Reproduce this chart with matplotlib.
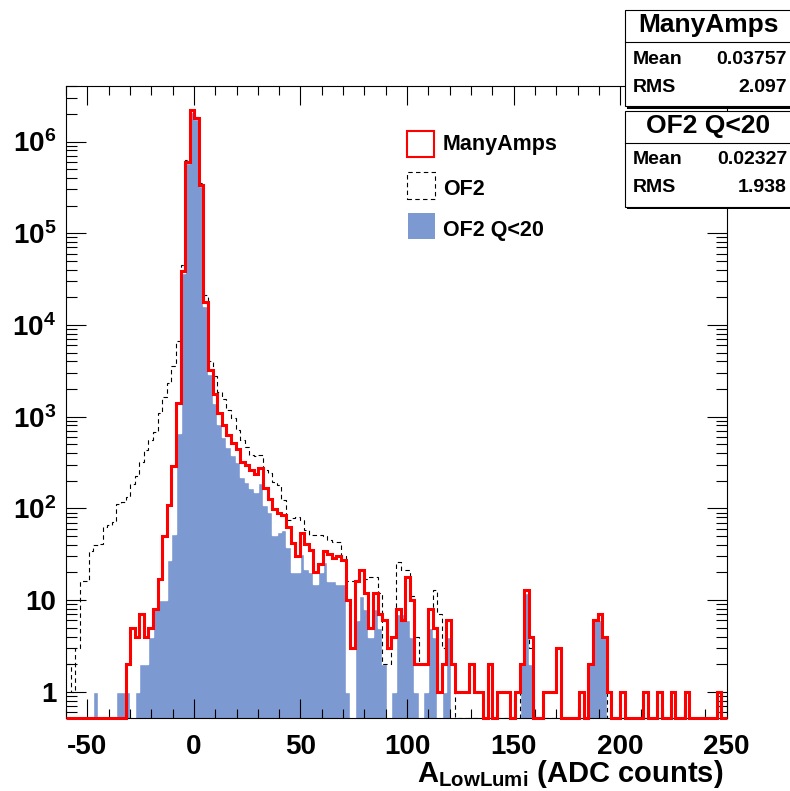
import numpy as np
import matplotlib
matplotlib.use("Agg")
import matplotlib.pyplot as plt
from matplotlib.patches import Rectangle
from matplotlib.ticker import MultipleLocator, LogLocator, NullFormatter

plt.rcParams['font.family'] = ['Liberation Sans', 'DejaVu Sans']
plt.rcParams['font.weight'] = 'bold'
plt.rcParams['axes.unicode_minus'] = False
plt.rcParams['mathtext.fontset'] = 'custom'
plt.rcParams['mathtext.rm'] = 'Liberation Sans:bold'
plt.rcParams['mathtext.bf'] = 'Liberation Sans:bold'
plt.rcParams['mathtext.it'] = 'Liberation Sans:bold'

# histogram binning (145 bins)
x_start = -60
bin_width = 2.15
n_bins = 145

# ManyAmps counts per bin
many_amps = [
    0, 0, 0, 0, 0, 0, 0, 0, 0, 0,
    0, 0, 0, 2, 5, 4, 7, 4, 5, 8,
    17, 50, 110, 290, 1400, 39000, 600000, 2200000, 1790000, 336000,
    17900, 3220, 1760, 1090, 810, 630, 511, 440, 322, 297,
    262, 235, 273, 165, 125, 98, 90, 85, 63, 42,
    30, 54, 41, 35, 20, 25, 34, 32, 29, 30,
    27, 10, 3, 16, 21, 12, 5, 12, 7, 6,
    3, 4, 8, 6, 18, 10, 2, 2, 2, 8,
    5, 1, 2, 6, 2, 1, 1, 1, 2, 1,
    1, 0, 2, 0, 1, 1, 1, 0, 1, 2,
    13, 4, 0, 0, 1, 1, 1, 3, 0, 0,
    0, 0, 1, 0, 2, 6, 7, 4, 1, 0,
    0, 1, 0, 0, 0, 0, 1, 0, 0, 1,
    0, 0, 1, 0, 0, 1, 0, 0, 0, 0,
    0, 0, 1, 0, 0,
]

# OF2 counts per bin
of2 = [
    2, 1, 3, 16, 16, 34, 40, 41, 63, 66,
    71, 112, 118, 134, 185, 225, 320, 430, 550, 680,
    1100, 1650, 2300, 3600, 6600, 45000, 630000, 2250000, 1830000, 350000,
    21000, 4000, 2800, 1870, 1540, 1180, 960, 710, 550, 470,
    380, 375, 385, 262, 240, 195, 180, 123, 75, 78,
    80, 75, 58, 51, 51, 51, 50, 45, 43, 43,
    30, 16, 16, 17, 21, 17, 18, 18, 12, 2,
    2, 4, 26, 21, 21, 11, 4, 2, 2, 8,
    13, 7, 3, 6, 2, 0, 0, 0, 0, 0,
    0, 0, 0, 0, 0, 0, 0, 0, 0, 2,
    13, 3, 0, 0, 0, 0, 0, 0, 0, 0,
    0, 0, 0, 0, 2, 6, 6, 4, 0, 0,
] + [0] * 25

# OF2 Q<20 counts per bin
of2_q20 = [
    0, 0, 0, 0, 0, 0, 1, 0, 0, 0,
    0, 1, 1, 1, 0, 1, 2, 2, 4, 8,
    10, 10, 27, 53, 660, 37000, 580000, 2100000, 1750000, 330000,
    16000, 2900, 1400, 840, 600, 470, 380, 322, 220, 195,
    165, 150, 188, 108, 92, 51, 55, 58, 38, 20,
    20, 32, 22, 20, 15, 20, 26, 16, 16, 15,
    15, 1, 0, 6, 11, 8, 4, 8, 5, 2,
    0, 1, 7, 7, 6, 4, 1, 0, 1, 5,
    4, 0, 1, 4, 0, 0, 0, 0, 0, 0,
    0, 0, 0, 0, 0, 0, 0, 0, 0, 2,
    12, 2, 0, 0, 0, 0, 0, 0, 0, 0,
    0, 0, 0, 0, 2, 6, 6, 4, 0, 0,
] + [0] * 25

stats_names = ['ManyAmps', 'OF2 Q<20']
stats_mean = ['0.03757', '0.02327']
stats_rms = ['2.097', '1.938']

y_ticks = [1, 10, 1e2, 1e3, 1e4, 1e5, 1e6]
y_labels = ['1', '10', r'$\mathbf{10^{2}}$', r'$\mathbf{10^{3}}$', r'$\mathbf{10^{4}}$',
            r'$\mathbf{10^{5}}$', r'$\mathbf{10^{6}}$']

W, H = 790, 791
ymin, ymax = 0.513, 4.03e6

edges = np.minimum(x_start + bin_width * np.arange(n_bins + 1), 250)
red = np.maximum(np.array(many_amps, float), ymin)
dash = np.maximum(np.array(of2, float), ymin)
blue = np.maximum(np.array(of2_q20, float), 0.3)

fig = plt.figure(figsize=(W / 100, H / 100), dpi=100)
ax = fig.add_axes([66 / W, 1 - 718.3 / H, (726.7 - 66) / W, (718.3 - 86) / H])
ax.set_yscale('log')

blue_col = '#7d99d1'
ax.stairs(blue, edges, baseline=0.3, fill=True, color=blue_col, zorder=1)
ax.stairs(blue, edges, baseline=None, color='white', lw=1.0, zorder=1.2)
ax.stairs(dash, edges, baseline=None, color='black', lw=0.8,
          linestyle=(0, (4, 3)), zorder=2)
ax.stairs(red, edges, baseline=None, color='#ff0000', lw=2.2, zorder=3, clip_on=False)

ax.set_xlim(-60, 250)
ax.set_ylim(ymin, ymax)

ax.xaxis.set_major_locator(MultipleLocator(50))
ax.xaxis.set_minor_locator(MultipleLocator(10))
ax.set_yticks(y_ticks)
ax.set_yticklabels(y_labels)
ax.yaxis.set_minor_locator(LogLocator(base=10, subs=np.arange(2, 10)))
ax.yaxis.set_minor_formatter(NullFormatter())

ax.tick_params(axis='x', which='major', direction='in', length=13.5, width=0.8,
               top=True, pad=11, labelsize=20)
ax.tick_params(axis='x', which='minor', direction='in', length=6.5, width=0.8, top=True)
ax.tick_params(axis='y', which='major', direction='in', length=14.5, width=0.8,
               right=True, pad=7, labelsize=20)
ax.tick_params(axis='y', which='minor', direction='in', length=7.8, width=0.8, right=True)
for s in ax.spines.values():
    s.set_linewidth(0.8)

fig.text(723 / W, 1 - 782 / H, r'$\mathbf{A_{LowLumi}}$ (ADC counts)',
         ha='right', va='baseline', fontsize=21, fontweight='bold')


def px_rect(x0, y0, x1, y1, **kw):
    r = Rectangle((x0 / W, 1 - y1 / H), (x1 - x0) / W, (y1 - y0) / H,
                  transform=fig.transFigure, **kw)
    fig.add_artist(r)
    return r


# legend
px_rect(407, 131, 434, 157, fill=False, edgecolor='#ff0000', lw=1.5)
px_rect(407, 172, 435, 199, fill=False, edgecolor='black', lw=0.8, linestyle=(0, (4, 3)))
px_rect(408, 213, 435, 239, facecolor=blue_col, edgecolor='none')
leg_labels = ['ManyAmps', 'OF2', 'OF2 Q<20']
for lab, yb in zip(leg_labels, [150, 195, 236]):
    fig.text(443 / W, 1 - yb / H, lab, ha='left', va='baseline', fontsize=15.5,
             fontweight='bold')

# stat boxes
for i, (name, mean, rms) in enumerate(zip(stats_names, stats_mean, stats_rms)):
    top = 10 + i * 100.7
    bot = top + 96
    px_rect(627, top + 2.5, 795, bot + 2.5, facecolor='black', edgecolor='none')
    px_rect(625, top, 795, bot, facecolor='white', edgecolor='black', lw=0.8)
    fig.add_artist(plt.Line2D([625 / W, 790 / W], [1 - (top + 32) / H] * 2,
                              transform=fig.transFigure, color='black', lw=0.8))
    fig.text(708 / W, 1 - (top + 15) / H, name, ha='center', va='center',
             fontsize=19, fontweight='bold')
    fig.text(633 / W, 1 - (top + 49) / H, 'Mean', ha='left', va='center',
             fontsize=14, fontweight='bold')
    fig.text(787 / W, 1 - (top + 49) / H, mean, ha='right', va='center',
             fontsize=14, fontweight='bold')
    fig.text(633 / W, 1 - (top + 77) / H, 'RMS', ha='left', va='center',
             fontsize=14, fontweight='bold')
    fig.text(787 / W, 1 - (top + 77) / H, rms, ha='right', va='center',
             fontsize=14, fontweight='bold')

fig.savefig('out.png', dpi=100)
